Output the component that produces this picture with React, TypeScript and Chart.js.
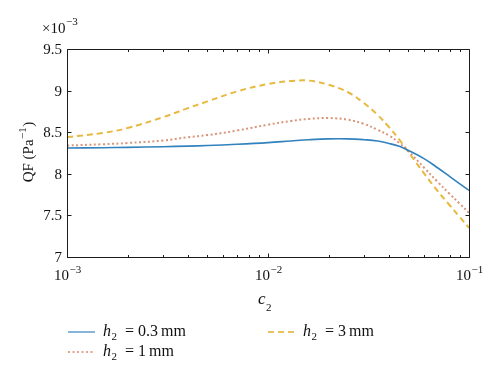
import React, { useEffect, useRef } from "react";
import { Chart, registerables } from "chart.js";

Chart.register(...registerables);

// c2 values (x axis, logarithmic)
const cValues = [
  0.001, 0.0015, 0.002, 0.003, 0.004, 0.005, 0.007, 0.01, 0.013, 0.016, 0.02,
  0.025, 0.03, 0.035, 0.04, 0.045, 0.05, 0.06, 0.07, 0.08, 0.09, 0.1,
];
// QF in units of 1e-3 Pa^-1
const qfH03 = [
  8.31, 8.314, 8.318, 8.326, 8.333, 8.34, 8.355, 8.375, 8.395, 8.41, 8.42,
  8.42, 8.41, 8.395, 8.365, 8.33, 8.28, 8.18, 8.07, 7.97, 7.88, 7.8,
];
const qfH1 = [
  8.34, 8.355, 8.37, 8.4, 8.44, 8.465, 8.52, 8.59, 8.635, 8.66, 8.67, 8.65,
  8.6, 8.53, 8.46, 8.37, 8.27, 8.07, 7.9, 7.76, 7.64, 7.53,
];
const qfH3 = [
  8.44, 8.49, 8.55, 8.68, 8.79, 8.87, 8.99, 9.08, 9.115, 9.12, 9.07, 8.98,
  8.85, 8.71, 8.56, 8.41, 8.26, 8.0, 7.79, 7.625, 7.48, 7.35,
];
const seriesValues = ["0.3", "1", "3"];
const yTickValues = [7, 7.5, 8, 8.5, 9, 9.5];
const yTickLabels = ["7", "7.5", "8", "8.5", "9", "9.5"];
const xMajorTicks = [0.001, 0.01, 0.1];
const xTickExponents = ["\u22123", "\u22122", "\u22121"];

const SERIF = '"Liberation Serif", "Times New Roman", serif';

function drawLegendText(ctx: CanvasRenderingContext2D, x: number, y: number, val: string) {
  ctx.textAlign = "left";
  ctx.textBaseline = "alphabetic";
  ctx.font = `italic 16px ${SERIF}`;
  ctx.fillText("h", x, y);
  ctx.font = `11px ${SERIF}`;
  ctx.fillText("2", x + 8.5, y + 4);
  ctx.font = `16px ${SERIF}`;
  ctx.fillText("=", x + 22, y);
  ctx.fillText(val, x + 35, y);
  const vw = ctx.measureText(val).width;
  ctx.fillText("mm", x + 35 + vw + 3, y);
}

const decorPlugin = {
  id: "decor",
  afterDraw(chart: any) {
    const { ctx, chartArea: a, scales } = chart;
    const xs = scales.x;
    const ys = scales.y;
    const L = Math.round(a.left) + 0.5;
    const R = Math.round(a.right) + 0.5;
    const T = Math.round(a.top) + 0.5;
    const B = Math.round(a.bottom) + 0.5;
    ctx.save();
    ctx.strokeStyle = "#1c1c1c";
    ctx.lineWidth = 1;
    ctx.beginPath();
    ctx.rect(L, T, R - L, B - T);
    ctx.stroke();

    // y ticks (inward, both sides)
    ctx.beginPath();
    for (const v of yTickValues) {
      const y = Math.round(ys.getPixelForValue(v)) + 0.5;
      ctx.moveTo(L, y);
      ctx.lineTo(L + 4, y);
      ctx.moveTo(R, y);
      ctx.lineTo(R - 4, y);
    }
    // x ticks major + minor (inward, top and bottom)
    for (let d = -3; d <= -1; d++) {
      for (let k = 1; k <= 9; k++) {
        if (d === -1 && k > 1) break;
        const v = k * Math.pow(10, d);
        const x = Math.round(xs.getPixelForValue(v)) + 0.5;
        const len = k === 1 ? 4 : 2.5;
        ctx.moveTo(x, B);
        ctx.lineTo(x, B - len);
        ctx.moveTo(x, T);
        ctx.lineTo(x, T + len);
      }
    }
    ctx.stroke();

    ctx.fillStyle = "#111";
    // y tick labels
    ctx.font = `15px ${SERIF}`;
    ctx.textAlign = "right";
    ctx.textBaseline = "middle";
    yTickValues.forEach((v, i) => {
      ctx.fillText(yTickLabels[i], a.left - 5, ys.getPixelForValue(v) + 1);
    });

    // x tick labels 10^n
    ctx.textBaseline = "alphabetic";
    ctx.textAlign = "left";
    xMajorTicks.forEach((v, i) => {
      const x = xs.getPixelForValue(v);
      ctx.font = `15px ${SERIF}`;
      const w1 = ctx.measureText("10").width;
      const start = x + 2 - w1;
      ctx.fillText("10", start, B + 22);
      ctx.font = `11px ${SERIF}`;
      ctx.fillText(xTickExponents[i], start + w1 + 0.5, B + 15);
    });

    // x axis title c2
    ctx.font = `italic 17px ${SERIF}`;
    const cx = (a.left + a.right) / 2 - 10;
    ctx.fillText("c", cx, B + 46);
    const cw = ctx.measureText("c").width;
    ctx.font = `11px ${SERIF}`;
    ctx.fillText("2", cx + cw + 0.5, B + 53);

    // multiplier label
    ctx.font = `15px ${SERIF}`;
    ctx.fillText("\u00d710", 42, 33);
    const mw = ctx.measureText("\u00d710").width;
    ctx.font = `11px ${SERIF}`;
    ctx.fillText("\u22123", 42 + mw + 0.5, 25);

    // y axis title
    ctx.save();
    ctx.translate(33, 152);
    ctx.rotate(-Math.PI / 2);
    ctx.font = `15px ${SERIF}`;
    const p1 = "QF (Pa";
    const w1 = ctx.measureText(p1).width;
    const wp = ctx.measureText(")").width;
    ctx.font = `11px ${SERIF}`;
    const ws = ctx.measureText("\u22121").width;
    const total = w1 + ws + wp + 1;
    let tx = -total / 2;
    ctx.font = `15px ${SERIF}`;
    ctx.textAlign = "left";
    ctx.fillText(p1, tx, 0);
    tx += w1 + 0.5;
    ctx.font = `11px ${SERIF}`;
    ctx.fillText("\u22121", tx, -7);
    tx += ws + 0.5;
    ctx.font = `15px ${SERIF}`;
    ctx.fillText(")", tx, 0);
    ctx.restore();

    // legend
    const spots = [
      [68, 332, 103],
      [68, 352, 103],
      [268, 332, 303],
    ];
    chart.data.datasets.forEach((ds: any, i: number) => {
      const [lx, ly, tx2] = spots[i];
      ctx.save();
      ctx.globalAlpha = 0.85;
      ctx.strokeStyle = ds.borderColor;
      ctx.lineWidth = i === 0 ? 1.4 : ds.borderWidth;
      ctx.setLineDash(ds.borderDash || []);
      ctx.beginPath();
      ctx.moveTo(lx, ly);
      ctx.lineTo(lx + 27, ly);
      ctx.stroke();
      ctx.restore();
      ctx.fillStyle = "#111";
      drawLegendText(ctx, tx2, ly + 4, seriesValues[i]);
    });
    ctx.restore();
  },
};

export default function App() {
  const ref = useRef<HTMLCanvasElement | null>(null);
  useEffect(() => {
    if (!ref.current) return;
    const mk = (vals: number[]) => cValues.map((c, i) => ({ x: c, y: vals[i] }));
    const chart = new Chart(ref.current, {
      type: "line",
      data: {
        datasets: [
          {
            label: "h2 = 0.3 mm",
            data: mk(qfH03),
            borderColor: "#3282be",
            borderWidth: 1.6,
            pointRadius: 0,
            tension: 0.4,
          },
          {
            label: "h2 = 1 mm",
            data: mk(qfH1),
            borderColor: "#d8957a",
            borderWidth: 2,
            borderDash: [2, 2.5],
            pointRadius: 0,
            tension: 0.4,
          },
          {
            label: "h2 = 3 mm",
            data: mk(qfH3),
            borderColor: "#e8b940",
            borderWidth: 2,
            borderDash: [6, 4],
            pointRadius: 0,
            tension: 0.4,
          },
        ],
      },
      options: {
        animation: false,
        responsive: false,
        devicePixelRatio: 1,
        layout: { padding: { top: 49, right: 31, left: 0, bottom: 0 } },
        plugins: { legend: { display: false }, tooltip: { enabled: false } },
        scales: {
          x: {
            type: "logarithmic",
            min: 0.001,
            max: 0.1,
            grid: { display: false },
            border: { display: false },
            ticks: { display: false },
            afterFit: (s: any) => {
              s.height = 121;
            },
          },
          y: {
            type: "linear",
            min: 7,
            max: 9.5,
            grid: { display: false },
            border: { display: false },
            ticks: { display: false },
            afterFit: (s: any) => {
              s.width = 67;
            },
          },
        },
      },
      plugins: [decorPlugin],
    } as any);
    return () => chart.destroy();
  }, []);
  return (
    <div style={{ position: "absolute", left: 0, top: 0, width: 500, height: 378, background: "#fff" }}>
      <canvas ref={ref} width={500} height={378} style={{ display: "block" }} />
    </div>
  );
}
